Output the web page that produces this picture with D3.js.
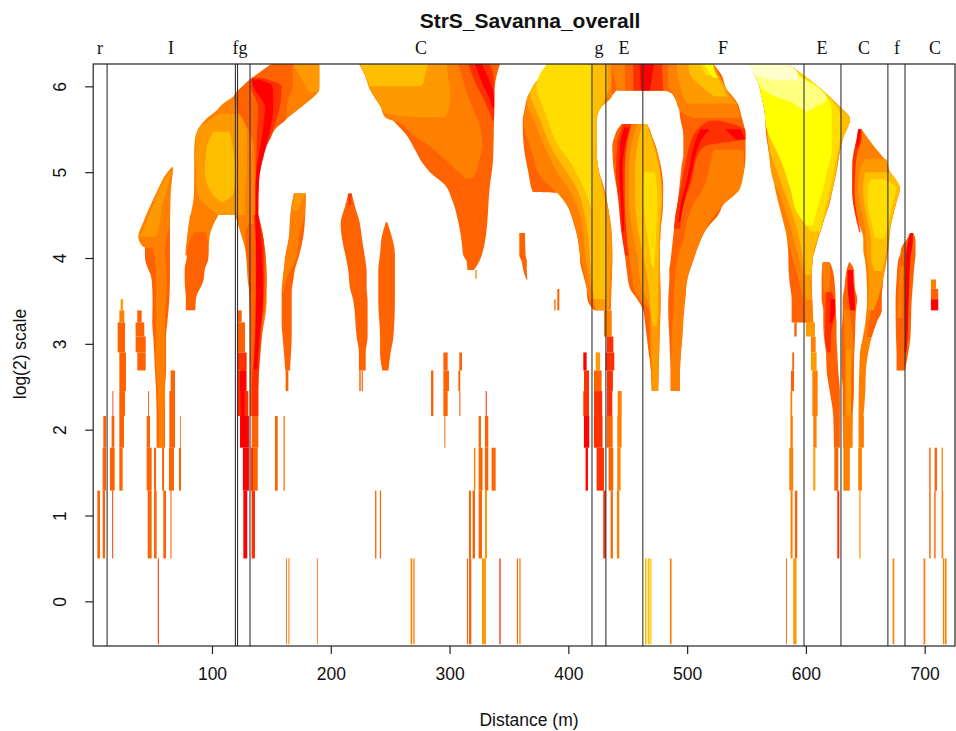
<!DOCTYPE html>
<html>
<head>
<meta charset="utf-8">
<script src="https://cdnjs.cloudflare.com/ajax/libs/d3/7.8.5/d3.min.js"></script>
<style>
html,body{margin:0;padding:0;background:#fff}
svg{display:block}
text{font-family:"Liberation Sans",Arial,sans-serif;fill:#111}
.zone{font-family:"Liberation Serif","Times New Roman",serif;font-size:18px}
</style>
</head>
<body>
<div id="chart"></div>
<script>
// colour classes, hot to pale
var heat = ['#ff0000','#ff3000','#ff6200','#ff8000','#ff9900','#ffbf00','#ffdd00','#ffff00','#ffff80','#ffffcc'];

var xTicks = [100,200,300,400,500,600,700];
var yTicks = [0,1,2,3,4,5,6];

// landform boundaries along the transect (m)
var boundaries = [11.7,119.7,121.5,132,419.9,431.6,462.7,598.4,629.5,669,683.4];
var zoneNames = ['r','I','fg','C','g','E','F','E','C','f','C'];
var zoneAt = [5.7,65.5,123.6,275.9,425.8,446.8,530.2,613.5,648.9,676.7,708.7];

// regions: [log2 scale, left distance, right distance]
var iUpper3 = [[6.26,150,190.4],[6.21,145,190.4],[6.13,139,190.4],[6.01,126.4,190.4],[5.97,124,190.4],[5.88,118,186],[5.8,109.5,179],[5.7,102.5,170],[5.625,95.5,163],[5.5,88.5,153],[5.39,85.7,149],[5.24,85,143],[4.93,85,139.6],[4.75,84.8,139],[4.5,82,139]];
var iUpper4 = [[5.68,106,120],[5.6,97,129],[5.5,88,129.2],[5.25,86,129.2],[5,86.5,129.2],[4.75,88,128],[4.5,105,128]];
var iUpper5 = [[5.47,101,115],[5.25,95,118],[5,94,119.4],[4.75,100,118],[4.65,108,109]];
var iCorner4 = [[6.26,168.5,190.4],[6.01,178.5,190.4],[5.93,182,188]];
var flame2 = [[6.26,150,168],[6.01,126.4,168],[5.88,118.5,165],[5.76,120,163],[5.64,125,163],[5.5,130,153],[5.39,134,149],[5.24,135.5,143],[4.93,136,139.6],[4.75,136,139]];
var flame1 = [[6.1,133,142],[6,133,158.6],[5.75,139,157],[5.5,138,151.6],[5.25,137.6,144.6],[5,137,140.4]];
var flame0 = [[6.08,133.5,140],[6,134.8,151],[5.75,144.6,151.6],[5.5,143,149],[5.25,140,144.6],[5,137.2,140.4],[4.75,136.5,139.2],[4.5,136.5,139]];
var flameLeg3 = [[4.5,119.4,139],[4.25,125,143],[4.1,128,144.6],[3.75,130,146],[3.5,132,146],[3.08,132,141.8],[2.9,132,140]];
var flameLeg2 = [[4.4,131,140],[4.25,128,143],[3.75,131,146],[3.08,132,142],[2.45,132,139],[2.16,132,139]];
var flameLeg1 = [[4.5,135,139],[4.1,137,144],[3.75,137,144],[3.08,136,141],[2.45,133.5,139],[2.16,133.5,139]];
var flameLeg0 = [[4.5,136.5,139],[4.1,137,142],[3.5,137,143],[3.08,136.5,140],[2.7,135,138]];
var leg2b3 = [[4.5,81.5,105.5],[4.25,79,98],[4.03,77.5,97]];
var leg2b2 = [[4.3,85,95],[4.1,79,97],[4,78.7,97],[3.87,77,94],[3.75,77,93],[3.52,78,86.5],[3.39,78,86]];
var iLeg2 = [[4.55,62,64.5],[4.25,59,64.6],[4.15,43.6,64.6],[4,43.6,64.6],[3.75,49.2,64.6],[3.5,50,64],[3.25,49.7,62.4],[3.08,50.6,61.3],[2.69,52,61.3],[2.45,52.9,60.4],[2.16,53.4,60.4]];
var iLeg3 = [[5.06,66.5,67.2],[5,62.5,67],[4.81,54.8,65.5],[4.62,48.4,65],[4.42,42.2,64.6],[4.25,38,62],[4.13,42,60.5],[4.1,50.6,60.4],[3.75,53,62],[3.25,53,60.4],[2.9,52.5,60.4],[2.45,54,60.4],[2.16,55,59.5]];
var iLeg4 = [[5,64,66],[4.8,56,62],[4.6,50,58],[4.4,44,56],[4.25,39,53]];
var fLeg2 = [[4.75,169,179],[4.45,165.7,178.3],[4.25,164.8,176.9],[4,161.5,172.7],[3.88,160.6,170],[3.75,159.5,168.5],[3.6,158.6,167.1],[3.25,158.6,167.1],[3.08,159.5,167.1],[2.9,160.6,166.5],[2.69,161.7,165.7]];
var fLeg3 = [[4.75,169,179],[4.5,166,178],[4.3,165.5,174],[4,162,171],[3.8,160,164],[3.6,159,160]];
var fLeg4 = [[4.75,170,178.5],[4.55,167.5,172]];
var cSpike2 = [[4.75,214.8,217.6],[4.6,212,220.4],[4.4,208.3,224.6],[4.25,209.2,226],[4,212.8,228.8],[3.85,214.8,230.2],[3.65,216.2,230.2],[3.5,219,231],[3.08,221.8,231],[2.9,223.7,229.4],[2.69,223.7,229.4]];
var cSpike1 = [[4.75,214.8,217.6],[4.62,215,217]];
var cSpikeB2 = [[4.42,246.5,247.5],[4.25,243,251.3],[4.05,241.5,254],[3.85,240,254],[3.5,240,254],[3.08,241.5,252.7],[2.9,241.5,250.4],[2.69,243.4,248.5]];
var bigC2 = [[6.26,224,342.5],[6.13,228.8,339.7],[5.93,234.4,337.7],[5.78,241.5,337.6],[5.62,251.3,337.4],[5.43,263.9,337.2],[5.26,270.9,336.9],[5.12,276.5,336.5],[5,283.5,335.5],[4.85,296.2,334],[4.69,301.8,333],[4.42,307.4,331.8],[4.19,310.2,329.8],[4.03,311.6,327],[3.96,314.4,325],[3.86,315,320.5]];
var bigC3 = [[6.26,224,307.4],[6.13,228.8,310.2],[5.93,234.4,314.4],[5.78,241.5,318.6],[5.64,245.7,322.8],[5.57,258.3,325],[5.43,269.5,327],[5.33,280.7,327.9],[5.2,292,326],[5.02,306,322.8],[4.93,313,320]];
var bigC4 = [[6.26,224,297.5],[6.13,228.8,298.5],[5.96,233,300.4],[5.85,238,300.4],[5.72,244,299],[5.69,246,298],[5.64,272,296]];
var bigC5 = [[6.26,224.6,282],[6.13,228.8,279.3],[6.01,232.5,277],[6,232.5,262]];
var bigC1 = [[6.26,315.8,334],[6.05,321.4,337.7],[5.86,328.4,337.7],[5.68,334,337.6],[5.6,336,337.4]];
var bigC0 = [[6.26,321.4,327],[6.05,327,334],[5.86,333.5,337.5],[5.75,336,337.5]];
var sliver2 = [[4.29,358.7,363.5],[4.03,358.7,364],[3.97,360.5,365],[3.86,362,365],[3.75,364.5,365.5]];
var g2 = [[6.26,381.8,436],[6.13,377.5,436],[6.01,370.5,436],[5.95,368.5,440],[5.9,366.3,437],[5.82,364.5,426.7],[5.7,362.8,424.4],[5.62,361.6,424],[5.55,361.6,423.3],[5.35,362.1,423.8],[5.2,363.5,424],[5,366.3,426],[4.77,370,430.9],[4.76,391,431],[4.62,398.6,433],[4.42,404.2,435],[4.23,407.8,436.5],[4.03,409.8,437],[3.98,409.8,437],[3.78,413,436.5],[3.645,415.4,436],[3.52,416,436],[3.39,421.6,435.6]];
var g3 = [[6.26,381.8,436],[6.13,377.5,436],[6.01,371,436],[5.9,367,437],[5.74,364,426.7],[5.62,362,424],[5.25,369,423.8],[4.93,377.5,426],[4.77,390,431],[4.62,398.6,433],[4.3,407,436.5],[4.03,409.8,437],[3.78,414,436.5],[3.52,418,436],[3.39,423,434.5]];
var g4 = [[6.26,382,436],[6.13,378,436],[6,372,436],[5.84,365,428],[5.53,373.3,423.5],[5.24,381.8,423.8],[4.98,391.6,426],[4.81,400,430],[4.62,407,433],[4.3,412.6,436],[4.03,414,436.5],[3.78,417,435],[3.52,421.6,434.5],[3.39,423,434]];
var g5 = [[6.26,382.5,433],[6.13,378,433],[5.93,368,433],[5.62,376,424],[5.24,387.4,423.8],[5.06,395.8,425],[4.81,407,429],[4.58,412.6,431.5],[4.23,416.8,432],[4,418,432],[3.52,421.5,432]];
var g6 = [[6.26,381.8,420.5],[6.01,373.3,420.5],[5.7,380.3,420.5],[5.31,391.6,420.5],[5.12,401.4,420.5],[4.87,411.2,420.5],[4.54,420.3,420.5]];
var arch2 = [[6.26,436,522],[6.13,436,529],[5.95,436,534],[5.94,484,534.6],[5.82,492.6,541.7],[5.64,494,545.9],[5.43,496.8,549.2],[5.2,496.8,549.2],[5.08,495.4,548.7],[4.89,494,545],[4.77,493,540.3],[4.62,491.7,530.4],[4.5,490,526.2],[4.34,488.9,516.4],[4.19,487.8,510.8],[4.09,487,508],[3.97,486.1,505.2],[3.86,485,502.4],[3.75,485,500.1],[3.5,484.1,498.2],[3.39,484.1,496.8],[3.08,485,495.9],[2.9,485.5,494.8],[2.69,486,494],[2.45,486,494]];
var arch3 = [[5.26,522,547.3],[5.08,519.2,548.1],[4.81,513.6,544.5],[4.62,505.2,530.4],[4.42,499.6,519.2],[4.19,496.8,510.8],[4.09,494,508],[3.75,489.7,500.1],[3.5,488.9,498.2],[3.08,487,495.9],[2.69,486.5,494],[2.45,486.5,494]];
var archUp3 = [[6.26,478.5,522],[6,484,530],[5.85,490,540],[5.7,495,544],[5.63,505,545]];
var archUp4 = [[6.26,491,522],[6,494,532],[5.85,498,538],[5.8,500,542]];
var archUp5 = [[6.26,501,520],[6.13,503,525],[6,512,530],[5.88,523,534]];
var archUp6 = [[6.26,510.8,520],[6.13,516,523]];
var archUp7 = [[6.26,515,522],[6.18,518,523],[6.1,522,526]];
var archRidge1 = [[5.6,517.8,527.6],[5.49,508,549],[5.39,504,549.2],[5.31,502,516],[5.2,500,509],[4.89,495.5,503.5],[4.62,491.7,496.8],[4.34,488.9,494]];
var archRidge0 = [[5.5,511,519],[5.42,508.5,514],[5.3,505.5,509.5],[5.03,501.5,504.5],[4.89,499.5,502],[4.62,494.5,497],[4.42,492.6,494.2]];
var archRidgeR = [[5.5,532,545],[5.38,541,549]];
var band3 = [[6.26,436,478.5],[5.95,441,484]];
var band2 = [[6.26,447.7,484],[5.95,447.7,484]];
var band1 = [[6.26,454.7,478.5],[5.95,454.7,480]];
var band0 = [[6.26,460,472],[5.95,461,468.7]];
var eFlame2 = [[5.56,444.9,466],[5.49,441,468.7],[5.43,439.3,470],[5.31,437,473.5],[5.2,437.2,475.7],[5.06,437.9,478],[4.81,440.7,479.9],[4.54,443.5,479.4],[4.31,446.3,477.5],[4.03,447.7,477.1],[3.86,449.1,477.1],[3.645,451.9,477.5],[3.52,458,477.7],[3.39,463,477.5],[3.25,464.5,477],[2.93,467.3,476.5],[2.69,469.5,476],[2.45,470.1,475.7]];
var eFlame1 = [[5.56,446,455],[5.31,441,451],[5,440,449],[4.7,442,449],[4.31,444.5,449],[4.03,447.7,451]];
var eFlame0 = [[5.52,447,451.9],[5.31,443.5,447.7],[5,442.9,445.7],[4.7,444,446.3],[4.31,445.5,447]];
var eFlame3 = [[5.56,453,466],[5.3,449,473.5],[5,447.5,478],[4.7,447.5,479.5],[4.31,449,477.5],[4.03,451,477],[3.75,454,477.3],[3.645,455,477.5],[3.52,460,477.5],[3.39,468,477.5],[2.93,468.7,476.5],[2.45,470.5,475.5]];
var eFlame4 = [[5.56,458,466],[5.3,453,473],[5,451,477.5],[4.7,451,479],[4.31,454,477],[4.03,458,477],[3.645,462,477],[3.39,469,477],[2.93,470,476],[2.45,471,475.5]];
var eFlame5 = [[5.56,462,466],[5.3,458,472],[5,456,477],[4.7,456,478.5],[4.31,459,476.5],[4.03,463,476],[3.645,468,475.5],[3.3,470,475],[3.2,472,474]];
var eFlame6 = [[5,464,473],[4.7,463,475],[4.31,466,474],[4.03,469,473],[3.9,470,472]];
var v2 = [[6.26,552.9,585.2],[6.13,557.1,593.6],[6.01,560.5,609],[5.88,562.5,617.4],[5.76,564.5,628.6],[5.62,565.8,637],[5.53,566,634.3],[5.39,567,630.9],[5.14,570,627.2],[4.89,574.5,623.6],[4.65,578,620.2],[4.42,582,614.6],[4.23,584,610.4],[4.03,585.2,606.2],[3.98,585.2,604.8],[3.75,586,604.8],[3.51,588,605.3],[3.25,588,606.2]];
var v3 = [[6.26,553,585],[6.01,560.5,609],[5.76,564.5,628.6],[5.62,566,637],[5.39,567.5,631],[5.14,570,627],[4.81,574,622.5],[4.42,581,614.6],[4.03,588,606.2],[3.75,593.6,604.8],[3.51,597.8,605.3],[3.25,599.5,606.2]];
var v4 = [[6.26,553,585],[6.01,561,609],[5.76,565,628.6],[5.62,566.5,637],[5.39,568,630.9],[4.98,571,625.5],[4.69,579.5,620.5],[4.31,588,612],[4.03,593.6,606],[3.75,598.3,604.8],[3.51,600,604.5]];
var v5 = [[6.26,553,585],[6.01,561,609],[5.76,565,628.6],[5.62,567,637],[5.35,568.3,630],[4.81,581,622.5],[4.42,590.8,614.6],[4.19,595,609],[4.03,597,606],[3.8,600,604.5]];
var v6 = [[6.26,553,585],[6.01,561,609],[5.76,565,626],[5.59,566,630],[5.39,570,628.6],[5.24,575.3,626.8],[5.08,580,624.4],[4.81,586.6,620.5],[4.38,600.6,613],[4.31,604,611.8]];
var v7 = [[6.26,553,585],[6.13,557.1,593.6],[6.01,560.5,609],[5.88,562.5,617],[5.74,565,621.6],[5.51,567,621.6],[5.24,576,621.6],[5,583,617.5],[4.81,587,614.6],[4.54,592.2,609],[4.42,598,606.5],[4.38,600,606]];
var v8 = [[6.26,553,585],[6.13,557.3,593.6],[5.95,565,613],[5.86,578,617.4],[5.82,586.6,616],[5.76,593.6,607.6],[5.7,600.6,601]];
var v9 = [[6.26,553,585.2],[6.13,558,593.6],[6.07,575,592]];
var c3 = [[5.5,644,646.9],[5.39,642.7,652.5],[5.24,640.4,660.9],[5.12,639,667.9],[5,639,670.7],[4.81,639,679.2],[4.65,640.4,676.3],[4.42,644,672.1],[4.23,648.3,669.3],[4.09,648.3,669.3],[3.98,649.7,666.5],[3.75,651.1,665.1],[3.5,651.5,663.7],[3.39,651,663.7],[3.25,650,659.5],[3.08,648,655.3],[2.9,645.5,652.5],[2.69,644.9,650.5],[2.45,644.5,650],[2.16,644.3,648.5]];
var c2r = [[3.75,660,665],[3.5,656,663.7],[3.39,655,663.7],[3.25,653,659.5],[3.08,651,655.3]];
var c1 = [[5.5,644,646.9],[5.39,642.7,647],[5.24,640.4,643.5],[5,639,641.5],[4.75,639,641],[4.5,641.5,643],[4.3,645,646]];
var c0 = [[5.5,644,646],[5.4,643.3,645.5],[5.3,642.5,644]];
var c4 = [[5.15,650,668],[5,645,670.7],[4.81,644,679],[4.65,645,676],[4.42,649,672],[4.09,651,669.3],[3.75,653,665],[3.5,653,660],[3.39,652,657]];
var c5 = [[5,650,671],[4.81,648,679],[4.65,649,676],[4.42,652,672],[4.2,655,669],[4,655,666.5],[3.85,658,664]];
var c6 = [[4.92,655,665],[4.81,652,676],[4.65,652,673],[4.42,655,670],[4.23,658,666]];
var sp1b2 = [[3.95,614,620.2],[3.86,613.5,622.5],[3.75,613.2,623.9],[3.645,613.2,624.5],[3.52,613.2,625],[3.39,614.6,625],[3.25,614.6,625.8],[3.08,615.2,625.8],[2.9,616.9,626.4],[2.69,617.4,627.2],[2.45,620,628.6],[2.16,623,628.6],[1.79,623.6,628.6]];
var sp1b3 = [[3.95,614,620.2],[3.75,614.5,620],[3.6,615,619]];
var sp1b1 = [[3.6,617,622],[3.39,616.5,625],[3.08,616,621],[2.9,618,621]];
var sp1b0 = [[3.52,620.5,624.5],[3.39,620.5,624.5],[3.25,620,622]];
var sp2b2 = [[3.95,636.2,637],[3.86,634.3,640.4],[3.645,632.3,641.3],[3.52,631,643.2],[3.39,631,642.1],[3.08,630,641.3],[2.69,630,640.4],[2.45,631,640.4],[2.16,631,639.3],[1.79,631.5,638.5]];
var sp2b0 = [[3.86,635,639.5],[3.7,635,640],[3.52,636,641],[3.39,637.5,641.5]];
var sp2b3 = [[3.4,632,636],[3,632.5,640],[2.7,633,638.5],[2.16,632.5,637],[1.79,632,637]];
var sp2b4 = [[2.93,634,638],[2.16,634,638]];
var sp3b2 = [[4.29,687.6,690.4],[4.2,684.2,692.3],[4.13,680.6,692.3],[4.03,679.2,692.3],[3.98,677.7,691.8],[3.75,676.3,690.4],[3.5,675.5,689],[3.08,675.8,688],[2.9,676.3,686.2],[2.69,676.3,683.4]];
var sp3b3 = [[3.9,679,682],[3.3,677,681]];
var sp3b0 = [[4.29,687.8,690],[4.2,686,690],[4,684,688],[3.5,683.5,686.5],[3.08,683.5,685.5],[2.9,683,684.5]];

// paint order: [region, colour class]
var regions = [
  [iUpper3,3],[iUpper4,4],[iUpper5,5],[iCorner4,4],[flame2,2],[flame1,1],[flame0,0],
  [flameLeg3,3],[flameLeg2,2],[flameLeg1,1],[flameLeg0,0],[leg2b3,3],[leg2b2,2],
  [iLeg2,2],[iLeg3,3],[iLeg4,4],[fLeg2,2],[fLeg3,3],[fLeg4,4],
  [cSpike2,2],[cSpike1,1],[cSpikeB2,2],
  [bigC2,2],[bigC3,3],[bigC4,4],[bigC5,5],[bigC1,1],[bigC0,0],[sliver2,2],
  [arch2,2],[arch3,3],[archUp3,3],[archUp4,4],[archUp5,5],[archUp6,6],[archUp7,7],
  [archRidge1,1],[archRidge0,0],[archRidgeR,0],
  [band3,3],[band2,2],[band1,1],[band0,0],
  [g2,2],[g3,3],[g4,4],[g5,5],[g6,6],
  [eFlame2,2],[eFlame1,1],[eFlame0,0],[eFlame3,3],[eFlame4,4],[eFlame5,5],[eFlame6,6],
  [v2,2],[v3,3],[v4,4],[v5,5],[v6,6],[v7,7],[v8,8],[v9,9],
  [c3,3],[c2r,2],[c1,1],[c0,0],[c4,4],[c5,5],[c6,6],
  [sp1b2,2],[sp1b3,3],[sp1b1,1],[sp1b0,0],[sp2b2,2],[sp2b3,3],[sp2b4,4],[sp2b0,0],
  [sp3b2,2],[sp3b3,3],[sp3b0,0]
];

// single cells at the small scales: [low, high, from, to, colour class]
var cellsLeft = [
  [1.29,1.79,22,24.8,2],[1.79,2.16,22,25.9,2],[2.16,2.45,22,26.8,2],[2.45,2.9,22,27.6,2],[2.9,3.25,20.6,26.8,2],[3.25,3.39,22,26.2,3],[3.39,3.52,23.1,25.1,4],
  [0.5,1.29,3.5,5.7,2],[0.5,1.29,8,10,2],[0.5,1.29,16,16.8,1],[1.29,1.79,8,10.8,2],[1.29,1.79,14.1,18.1,2],[1.79,2.16,8.5,10.8,2],[1.79,2.16,15.5,17.8,2],[2.16,2.45,16.2,16.9,1],
  [2.69,2.9,37.1,44.2,2],[2.9,3.085,35.7,44.2,2],[3.085,3.25,35.7,43,2],[3.25,3.39,37.1,40.8,2],
  [2.16,2.45,46.2,47,2],[1.79,2.16,45,47.8,2],[1.29,1.79,45,49.2,2],[0.5,1.29,45.9,49.2,2],
  [1.79,2.16,53.4,60.4,2],[1.79,2.16,55,59.5,3],[1.29,1.79,51.2,52.9,2],[1.29,1.79,58,59.6,2],[0.5,1.29,51.2,53.4,2],[0.5,1.29,59,61.3,2],
  [2.45,2.69,65.2,68.9,2],[1.79,2.45,64.1,68.9,2],[1.29,1.79,63.8,68,2],[0.5,1.29,65,65.9,2],[1.79,2.16,73,73.7,2],[1.29,1.79,72.2,73.9,2],
  [3.25,3.39,121.6,125,2],[2.9,3.25,121.6,127.8,2],[2.69,2.9,121.6,129.2,1],[2.45,2.69,121.6,129.2,1],[2.45,2.69,123.5,128.5,0],[2.16,2.45,121.6,130.6,1],[2.16,2.45,124,127.5,0],[1.79,2.16,123.6,131.1,0],[1.29,1.79,126,131.1,0],[0.5,1.29,126.4,129.7,0],
  [1.79,2.16,133.4,139,2],[1.29,1.79,132.6,138.5,2],[1.29,1.79,133,134.5,1],[0.5,1.29,133.4,136.2,1],
  [1.29,2.16,153,155.3,2],[1.29,2.16,160.2,161.2,2],[2.45,2.69,162,164.3,2],
  [2.45,2.69,224,225.2,2],[2.45,2.69,226,227,2],[0.5,1.29,237.3,238.4,2],[0.5,1.29,241.3,242.3,2]
];
var cellsMiddle = [
  [3.76,3.86,321.7,322.8,3],[2.16,2.69,284.4,286.4,2],[2.69,2.9,294.8,298.4,2],[2.45,2.69,294.8,299.5,2],[2.16,2.45,294.8,298.4,2],[1.79,2.16,295.6,296.4,2],
  [2.69,2.9,308.2,310.5,2],[2.45,2.69,307.4,309,2],[2.16,2.45,308.2,309.1,2],[2.16,2.45,330.4,331.3,1],
  [1.79,2.16,324.5,326.4,2],[1.79,2.16,329.8,332.6,2],[1.29,1.79,320.5,321.7,3],[1.29,1.79,324.5,327.8,2],[1.29,1.79,329.8,332.6,2],[1.29,1.79,335.4,338.8,2],
  [0.5,1.29,316.3,318,2],[0.5,1.29,319.4,321.4,2],[0.5,1.29,324.5,327.3,2],[0.5,1.29,329.8,331.5,4],
  [3.39,3.64,390.7,392.4,2],[3.39,3.52,388.2,389.3,2],
  [2.69,2.9,412.6,415.4,0],[2.45,2.69,413.2,417.4,1],[2.45,2.69,421.6,428,2],[2.69,2.9,423,426.7,4],[2.16,2.45,412.6,417.4,1],[2.16,2.45,421.6,428.5,1],[2.16,2.45,441.5,444.9,3],
  [3.085,3.39,430,436.5,3],[2.9,3.085,432.3,437.9,1],[2.69,2.9,431.4,438.7,1],[2.45,2.69,432.5,437.5,1],[2.16,2.45,432.5,437,1],[1.79,2.16,432.2,437.3,2],
  [1.79,2.16,413.1,417.6,0],[1.79,2.16,421.5,428.8,1],[1.79,2.16,441.2,444.8,3],
  [1.29,1.79,414.5,416.5,0],[1.29,1.79,423.8,430,1],[1.29,1.79,433.9,437.8,2],[1.29,1.79,441.2,444,3],
  [0.5,1.29,429.4,431.6,1],[0.5,1.29,435.6,437.5,2],[0.5,1.29,440.9,442.9,3]
];
var cellsRight = [
  [3.085,3.25,600,607.6,4],[2.9,3.085,604.2,608.2,3],[2.69,2.9,604.2,609,4],[2.16,2.69,605.4,609.9,3],[1.79,2.16,606.2,609,3],
  [3.085,3.25,590.2,592.2,2],[2.69,2.9,588.5,590,2],[2.45,2.69,587.4,590,2],[1.79,2.45,587,588.5,3],
  [3.64,3.75,705.2,709.5,3],[3.52,3.64,705.2,711.4,2],[3.39,3.52,705.2,711.4,0],
  [1.79,2.16,587.2,588.9,3],[1.79,2.16,631.4,639.3,3],[1.79,2.16,644.3,648.8,3],
  [1.29,1.79,586,589.3,3],[1.29,1.79,606.2,607.9,4],[1.29,1.79,623.9,627.2,2],[1.29,1.79,631.5,637,3],[1.29,1.79,644,647.1,3],
  [1.29,1.79,703.8,705,2],[1.29,1.79,708.3,710.3,2],[1.29,1.79,714.2,715.3,3],
  [0.5,1.29,587.1,588.8,3],[0.5,1.29,590.7,592.7,2],[0.5,1.29,626.4,628.1,1],[0.5,1.29,644.9,646,4],
  [0.5,1.29,703.8,705,2],[0.5,1.29,708,709.2,2],[0.5,1.29,714.2,715.6,3]
];
// largest row, scale 1
var cellsScale1 = [
  [-0.5,0.5,54.4,55.3,1],[-0.5,0.5,162.3,163,2],[-0.5,0.5,164.3,165.2,3],[-0.5,0.5,188.3,189,2],
  [-0.5,0.5,267.2,268.6,3],[-0.5,0.5,269.5,270.6,3],[-0.5,0.5,314.6,315.5,2],[-0.5,0.5,316.3,318.3,2],[-0.5,0.5,327.3,330.6,4],
  [-0.5,0.5,341.9,343,1],[-0.5,0.5,356.7,357.6,2],[-0.5,0.5,358.7,359.8,3],
  [-0.5,0.5,464.5,465.9,5],[-0.5,0.5,466.8,468.4,5],[-0.5,0.5,469,470,5],[-0.5,0.5,485.5,486.9,3],
  [-0.5,0.5,583.2,584,2],[-0.5,0.5,589.3,592.1,4],[-0.5,0.5,673,674.4,3],[-0.5,0.5,699,700.5,3],[-0.5,0.5,715.3,716.5,3],[-0.5,0.5,717,718.4,3]
];

var width = 956, height = 731;
var x = d3.scaleLinear().domain([0,725.5]).range([93.2,955]);
var y = d3.scaleLinear().domain([-0.52,6.26]).range([646,64]);

var svg = d3.select('#chart').append('svg').attr('width',width).attr('height',height);

svg.append('clipPath').attr('id','plotclip').append('rect')
  .attr('x',x.range()[0]).attr('y',y.range()[1])
  .attr('width',x.range()[1]-x.range()[0]).attr('height',y.range()[0]-y.range()[1]);

var plot = svg.append('g').attr('clip-path','url(#plotclip)');

var area = d3.area()
  .curve(d3.curveMonotoneY)
  .x0(function(d){return x(d[1])})
  .x1(function(d){return x(d[2])})
  .y(function(d){return y(d[0])});

plot.selectAll('path.region').data(regions).enter().append('path')
  .attr('class','region')
  .attr('d',function(r){return area(r[0])})
  .style('fill',function(r){return heat[r[1]]});

var cells = cellsLeft.concat(cellsMiddle,cellsRight,cellsScale1);
plot.selectAll('rect.cell').data(cells).enter().append('rect')
  .attr('class','cell')
  .attr('x',function(d){return x(d[2])})
  .attr('y',function(d){return y(d[1])})
  .attr('width',function(d){return x(d[3])-x(d[2])})
  .attr('height',function(d){return y(d[0])-y(d[1])})
  .style('fill',function(d){return heat[d[4]]});

plot.selectAll('line.boundary').data(boundaries).enter().append('line')
  .attr('class','boundary')
  .attr('x1',function(d){return x(d)}).attr('x2',function(d){return x(d)})
  .attr('y1',y.range()[1]).attr('y2',y.range()[0])
  .style('stroke','#333').style('stroke-width',1.1);

// box
svg.append('rect')
  .attr('x',x.range()[0]).attr('y',y.range()[1])
  .attr('width',x.range()[1]-x.range()[0]).attr('height',y.range()[0]-y.range()[1])
  .style('fill','none').style('stroke','#222').style('stroke-width',1.2);

var xAxis = svg.append('g').attr('transform','translate(0,646)')
  .call(d3.axisBottom(x).tickValues(xTicks).tickSize(8).tickPadding(14).tickFormat(d3.format('d')));
var yAxis = svg.append('g').attr('transform','translate(93.2,0)')
  .call(d3.axisLeft(y).tickValues(yTicks).tickSize(8).tickFormat(d3.format('d')));
xAxis.select('.domain').remove();
yAxis.select('.domain').remove();
xAxis.selectAll('text').style('font-size','17.5px').style('font-family','"Liberation Sans",Arial,sans-serif');
yAxis.selectAll('text').style('font-size','17.5px').style('font-family','"Liberation Sans",Arial,sans-serif')
  .attr('transform','rotate(-90,-33,0)')
  .attr('x',-33).attr('y',6).attr('dy',0)
  .style('text-anchor','middle');
svg.selectAll('.tick line').style('stroke','#222').style('stroke-width',1.2);

svg.selectAll('text.zone').data(zoneNames).enter().append('text')
  .attr('class','zone')
  .attr('x',function(d,i){return x(zoneAt[i])}).attr('y',54)
  .attr('text-anchor','middle')
  .text(function(d){return d});

svg.append('text').attr('x',530).attr('y',28).attr('text-anchor','middle')
  .style('font-size','21px').style('font-weight','bold').text('StrS_Savanna_overall');
svg.append('text').attr('x',529).attr('y',726).attr('text-anchor','middle')
  .style('font-size','17.5px').text('Distance (m)');
svg.append('text').attr('transform','translate(26,354) rotate(-90)').attr('text-anchor','middle')
  .style('font-size','17.5px').text('log(2) scale');
</script>
</body>
</html>
